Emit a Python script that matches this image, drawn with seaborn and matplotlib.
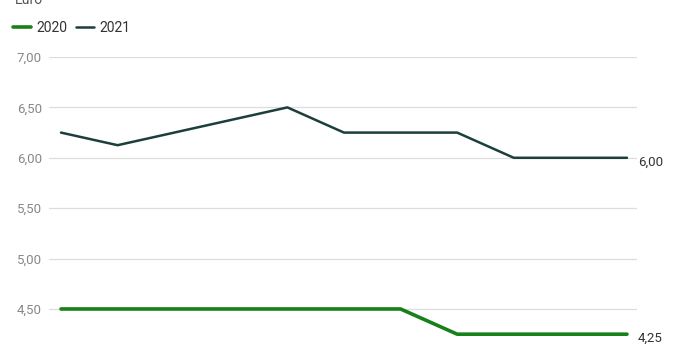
import matplotlib
matplotlib.use("Agg")
import matplotlib.pyplot as plt
import seaborn as sns
import pandas as pd
from matplotlib.lines import Line2D

periods = list(range(11))
s2020 = [4.50, 4.50, 4.50, 4.50, 4.50, 4.50, 4.50, 4.25, 4.25, 4.25, 4.25]
s2021 = [6.25, 6.125, 6.25, 6.375, 6.50, 6.25, 6.25, 6.25, 6.00, 6.00, 6.00]
series_names = ["2020", "2021"]
colors = ["#17801a", "#1d3f3c"]
yticks = [4.50, 5.00, 5.50, 6.00, 6.50, 7.00]
unit_label = "Euro"

df = pd.DataFrame({
    "x": periods * 2,
    "y": s2020 + s2021,
    "serie": [series_names[0]] * len(periods) + [series_names[1]] * len(periods),
})

sns.set_theme(style="white")
plt.rcParams['font.family'] = ['Roboto', 'DejaVu Sans']

W, H = 676, 350
fig = plt.figure(figsize=(W / 100, H / 100), dpi=100)
ax = fig.add_axes([49 / W, 0, (637 - 49) / W, (350 - 57) / H])

sns.lineplot(data=df, x="x", y="y", hue="serie", palette=dict(zip(series_names, colors)),
             ax=ax, legend=False, sort=False)
for line, lw in zip(ax.get_lines(), [2.6, 1.8]):
    line.set_linewidth(lw)
    line.set_clip_on(False)

ax.set_xlim(-0.212, 10.177)
ax.set_ylim(4.093, 7.0)
ax.set_yticks(yticks)
ax.set_yticklabels([f"{v:.2f}".replace(".", ",") for v in yticks], color="#888888", fontsize=9.5)
ax.set_xticks([])
ax.grid(axis="y", color="#dddddd", linewidth=0.9)
ax.tick_params(axis="y", length=0, pad=5)
for sp in ax.spines.values():
    sp.set_visible(False)
ax.set_xlabel("")
ax.set_ylabel("")

for vals in (s2020, s2021):
    ax.annotate(f"{vals[-1]:.2f}".replace(".", ","), xy=(periods[-1], vals[-1]),
                xytext=(8, -3), textcoords="offset points", ha="left", va="center",
                fontsize=9.5, color="#333333", annotation_clip=False)

fig.text(15 / W, 1 - 4 / H, unit_label, ha="left", va="baseline", fontsize=10, color="#555555")

handles = [Line2D([0], [0], color=c, lw=lw) for c, lw in zip(colors, [2.6, 1.8])]
fig.legend(handles, series_names, loc="center left", bbox_to_anchor=(13 / W, 1 - 28 / H),
           ncol=2, frameon=False, fontsize=10, handlelength=1.3, handletextpad=0.4,
           columnspacing=0.6, borderaxespad=0, borderpad=0, labelcolor="#333333")

fig.savefig("out.png", dpi=100)
